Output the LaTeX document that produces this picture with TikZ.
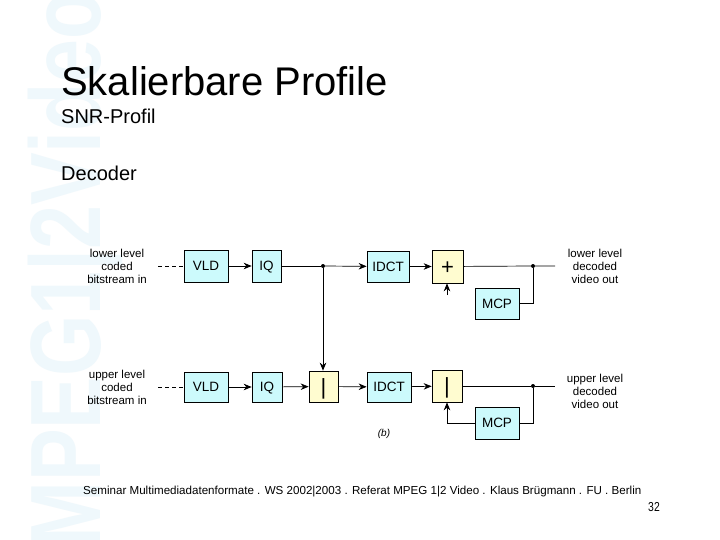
\documentclass[tikz,border=0pt]{standalone}
\usepackage{fontspec}
\setmainfont{Liberation Sans}
\usetikzlibrary{arrows.meta}
\definecolor{wm}{HTML}{EFF8FC}
\definecolor{cy}{HTML}{CCFAFC}
\definecolor{ye}{HTML}{FFFCD0}
\tikzset{
  blk/.style={draw=black, line width=0.7pt, inner sep=0pt, text height=9.7pt, text depth=0pt, font=\fontsize{13.5}{13.5}\selectfont},
  cbox/.style={blk, fill=cy},
  ybox/.style={blk, fill=ye},
  lbl/.style={align=center, font=\fontsize{11.5}{13}\selectfont, inner sep=0pt},
  wire/.style={line width=0.7pt},
  arr/.style={wire, -{Stealth[length=8pt,width=6.5pt]}},
  dot/.style={circle, fill=black, inner sep=0pt, minimum size=4pt},
  sym/.style={font=\fontsize{22}{22}\selectfont, text height=15pt, text depth=0pt}
}
\begin{document}
\begin{tikzpicture}[x=1pt,y=-1pt]
\useasboundingbox (0,0) rectangle (720,540);
\fill[white] (0,0) rectangle (720,540);
% watermark
\node[wm, rotate=90, anchor=base west, font=\bfseries\fontsize{100}{100}\selectfont, inner sep=0pt] (wmark) at (100,548) {\scalebox{0.79}[1]{MPEG1|2Video}};
% titles
\node[anchor=base west, inner sep=0pt, font=\fontsize{40}{40}\selectfont] (title) at (61,96) {Skalierbare Profile};
\node[anchor=base west, inner sep=0pt, font=\fontsize{20}{20}\selectfont] (sub) at (61,124) {SNR-Profil};
\node[anchor=base west, inner sep=0pt, font=\fontsize{20}{20}\selectfont] (dec) at (61,181) {Decoder};
% lower row
\node[lbl] (in1) at (117,266.5) {lower level\\coded\\bitstream in};
\node[cbox, minimum width=44pt, minimum height=32pt] (vld1) at (206,266) {VLD};
\node[cbox, minimum width=29pt, minimum height=32pt] (iq1) at (266.5,266) {IQ};
\node[dot] (j1) at (323,266) {};
\node[cbox, minimum width=42pt, minimum height=31pt] (idct1) at (388,266.5) {IDCT};
\node[ybox, sym, minimum width=31pt, minimum height=33pt] (plus) at (447.5,266.5) {+};
\node[cbox, minimum width=44pt, minimum height=31pt] (mcp1) at (497,303.5) {MCP};
\node[dot] (j2) at (533,266) {};
\coordinate (o1) at (555,266);
\coordinate (pa) at (447,295);
\node[lbl] (out1) at (595,266) {lower level\\decoded\\video out};
\draw[wire, dashed, dash pattern=on 4pt off 3pt] (158,266) -- (vld1.west);
\draw[arr] (vld1) -- (iq1);
\draw[wire] (iq1) -- (j1);
\draw[arr] (j1) -- (idct1);
\draw[arr] (idct1) -- (plus);
\draw[wire] (plus) -- (j2) -- (o1);
\draw[wire] (mcp1.east) -| (j2);
\draw[arr] (pa) -- (pa |- plus.south);
% upper row
\node[lbl] (in2) at (117,387.5) {upper level\\coded\\bitstream in};
\node[cbox, minimum width=44pt, minimum height=30pt] (vld2) at (206,387) {VLD};
\node[cbox, minimum width=30pt, minimum height=30pt] (iq2) at (267,387) {IQ};
\node[ybox, sym, minimum width=29pt, minimum height=31pt] (bar1) at (323.5,386.5) {|};
\node[cbox, minimum width=44pt, minimum height=30pt] (idct2) at (389,387) {IDCT};
\node[ybox, sym, minimum width=30pt, minimum height=32pt] (bar2) at (447,386) {|};
\node[cbox, minimum width=44pt, minimum height=32pt] (mcp2) at (497,423) {MCP};
\node[dot] (j3) at (533,386) {};
\coordinate (o2) at (555,386);
\node[lbl] (out2) at (595,391) {upper level\\decoded\\video out};
\draw[wire, dashed, dash pattern=on 4pt off 3pt] (158,387) -- (vld2.west);
\draw[arr] (vld2) -- (iq2);
\draw[arr] (iq2) -- (bar1);
\draw[arr] (bar1) -- (idct2);
\draw[arr] (idct2) -- (bar2);
\draw[wire] (bar2.east |- j3) -- (j3) -- (o2);
\draw[wire] (mcp2.east) -| (j3);
\draw[arr] (mcp2.west) -| (bar2.south);
\draw[arr] (j1) -- (j1 |- bar1.north);
\node[font=\itshape\fontsize{10}{10}\selectfont, inner sep=0pt] (b) at (384,434) {(b)};
% footer
\node[anchor=base west, inner sep=0pt, font=\fontsize{11.6}{12}\selectfont] (foot) at (83,494) {Seminar Multimediadatenformate . WS 2002|2003 . Referat MPEG 1|2 Video . Klaus Brügmann . FU . Berlin};
\node[anchor=base east, inner sep=0pt, font=\fontsize{13}{13}\selectfont] (pg) at (660,511) {\scalebox{0.8}[1]{32}};
\end{tikzpicture}
\end{document}
